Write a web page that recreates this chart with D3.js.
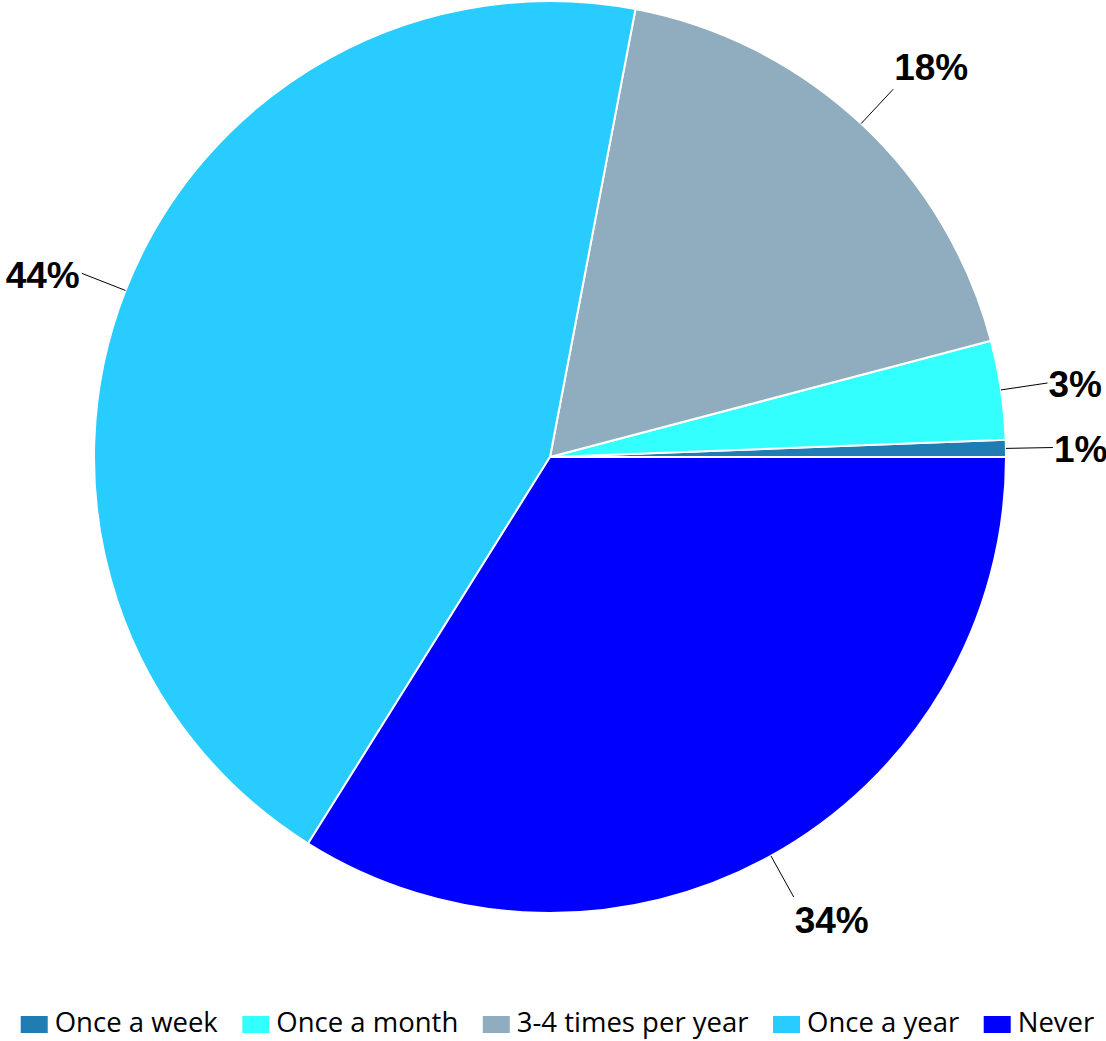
<!DOCTYPE html>
<html>
<head>
<meta charset="utf-8">
<script src="https://cdn.jsdelivr.net/npm/d3@7"></script>
<style>
  html, body { margin: 0; padding: 0; background: #ffffff; }
  svg { display: block; }
</style>
</head>
<body>
<svg id="chart" width="1106" height="1041"></svg>
<script>
const categories = ["Once a week", "Once a month", "3-4 times per year", "Once a year", "Never"];
const values = [0.6, 3.5, 17.9, 44.1, 33.9];
const valueLabels = ["1%", "3%", "18%", "44%", "34%"];
const colors = ["#1F7DB3", "#33FFFF", "#8FADBF", "#29CCFF", "#0000FF"];

const svg = d3.select("#chart");
const cx = 550, cy = 457, radius = 456;
const leaderR = 503;

const pie = d3.pie().sort(null).value(d => d)
  .startAngle(Math.PI / 2).endAngle(Math.PI / 2 - 2 * Math.PI);
const arcs = pie(values);
const arc = d3.arc().innerRadius(0).outerRadius(radius);

const g = svg.append("g").attr("transform", `translate(${cx},${cy})`);

g.selectAll("path.slice").data(arcs).enter().append("path")
  .attr("class", "slice")
  .attr("d", arc)
  .attr("fill", (d, i) => colors[i])
  .attr("stroke", "#ffffff")
  .attr("stroke-width", 2)
  .attr("stroke-linejoin", "round");

// leader lines + labels
const fs = 37;
arcs.forEach((d, i) => {
  const a = (d.startAngle + d.endAngle) / 2;
  const s = Math.sin(a), c = Math.cos(a);
  const x0 = s * radius, y0 = -c * radius;
  const x1 = s * leaderR, y1 = -c * leaderR;
  g.append("line")
    .attr("x1", x0).attr("y1", y0).attr("x2", x1).attr("y2", y1)
    .attr("stroke", "#000000").attr("stroke-width", 1);
  let tx, anchor, centerY;
  if (Math.abs(c) > 0.6) {
    tx = x1 + 1;
    anchor = "start";
    centerY = y1 - Math.sign(c) * 22.5;
  } else {
    anchor = s > 0 ? "start" : "end";
    tx = s > 0 ? x1 + 1 : x1 - 2;
    centerY = y1 + 1;
  }
  g.append("text")
    .attr("x", tx)
    .attr("y", centerY + 0.358 * fs)
    .attr("text-anchor", anchor)
    .attr("font-family", "'Liberation Sans', Arial, sans-serif")
    .attr("font-weight", "bold")
    .attr("font-size", fs)
    .attr("fill", "#000000")
    .text(valueLabels[i]);
});

// legend
const sw = 27, sh = 17, swGap = 7, itemGap = 24.5;
const swTop = 1016, baseline = 1032;
const legend = svg.append("g");
const items = legend.selectAll("g.item").data(categories).enter().append("g").attr("class", "item");
items.append("rect")
  .attr("width", sw).attr("height", sh)
  .attr("y", swTop)
  .attr("fill", (d, i) => colors[i]);
const texts = items.append("text")
  .attr("x", sw + swGap)
  .attr("y", baseline)
  .attr("font-family", "'Open Sans', sans-serif")
  .attr("font-size", 27.5)
  .attr("fill", "#000000")
  .text(d => d);
let xpos = 0;
const widths = [];
texts.each(function () { widths.push(this.getComputedTextLength()); });
const totalW = d3.sum(widths, w => sw + swGap + w) + itemGap * (categories.length - 1);
const startX = 557.5 - totalW / 2;
items.attr("transform", (d, i) => {
  const t = `translate(${startX + xpos},0)`;
  xpos += sw + swGap + widths[i] + itemGap;
  return t;
});
</script>
</body>
</html>
